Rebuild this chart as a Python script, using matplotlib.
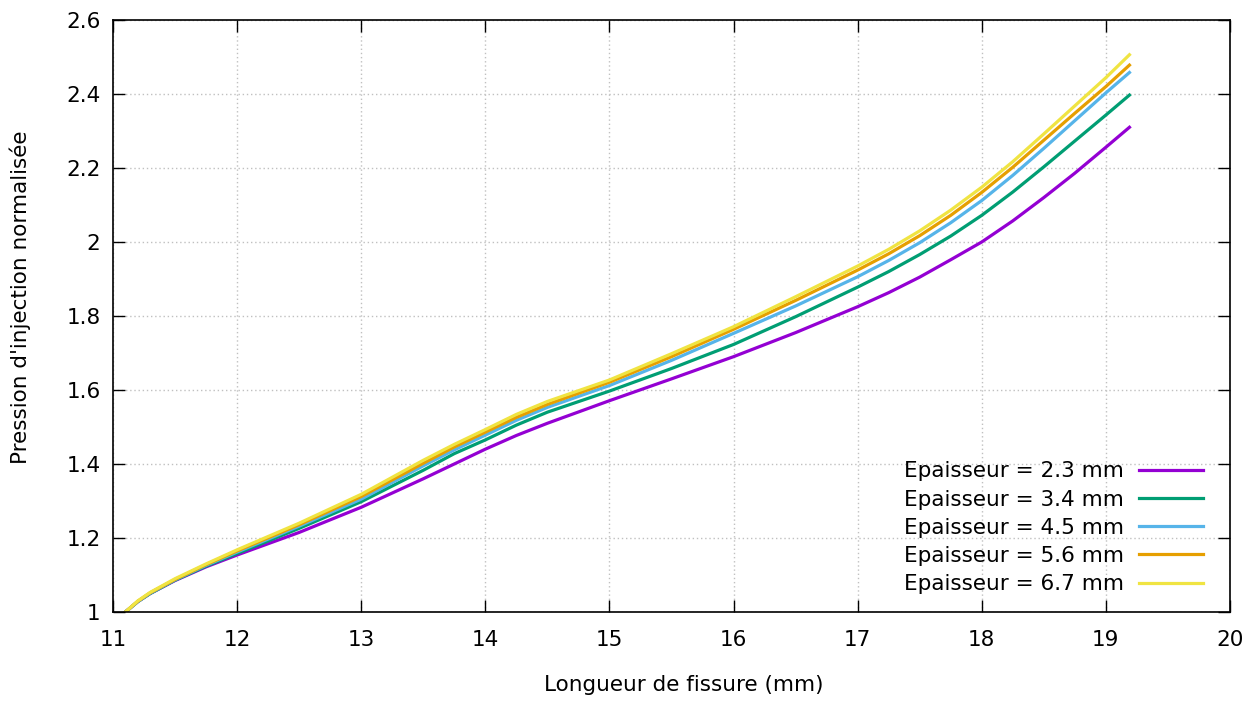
import matplotlib
matplotlib.use("Agg")
import matplotlib.pyplot as plt

# longueur de fissure (mm)
x = [11.1, 11.2, 11.3, 11.5, 11.75, 12.0, 12.5, 13.0, 13.5, 13.75, 14.0, 14.25, 14.5, 15.0,
     15.5, 16.0, 16.5, 17.0, 17.25, 17.5, 17.75, 18.0, 18.25, 18.5, 18.75, 19.0, 19.19]

# pression d'injection normalisee, une serie par epaisseur
p_23 = [1.0, 1.028, 1.05, 1.085, 1.122, 1.154, 1.215, 1.283, 1.36, 1.40, 1.44, 1.477, 1.51, 1.571,
        1.63, 1.69, 1.755, 1.825, 1.863, 1.905, 1.952, 2.0, 2.057, 2.12, 2.186, 2.256, 2.31]
p_34 = [1.0, 1.028, 1.05, 1.086, 1.124, 1.158, 1.226, 1.298, 1.383, 1.428, 1.465, 1.505, 1.54, 1.597,
        1.658, 1.723, 1.798, 1.878, 1.92, 1.966, 2.016, 2.072, 2.135, 2.203, 2.273, 2.343, 2.397]
p_45 = [1.0, 1.028, 1.051, 1.087, 1.126, 1.162, 1.232, 1.305, 1.395, 1.438, 1.478, 1.518, 1.553, 1.612,
        1.68, 1.753, 1.827, 1.906, 1.95, 1.998, 2.052, 2.112, 2.18, 2.253, 2.328, 2.403, 2.458]
p_56 = [1.0, 1.029, 1.052, 1.088, 1.128, 1.165, 1.236, 1.312, 1.402, 1.446, 1.486, 1.526, 1.561, 1.621,
        1.69, 1.764, 1.842, 1.924, 1.968, 2.017, 2.072, 2.134, 2.202, 2.275, 2.348, 2.42, 2.478]
p_67 = [1.0, 1.03, 1.053, 1.09, 1.13, 1.168, 1.24, 1.318, 1.41, 1.453, 1.493, 1.534, 1.569, 1.627,
        1.698, 1.771, 1.852, 1.935, 1.98, 2.03, 2.086, 2.148, 2.217, 2.292, 2.368, 2.444, 2.506]

labels = ["Epaisseur = 2.3 mm", "Epaisseur = 3.4 mm", "Epaisseur = 4.5 mm",
          "Epaisseur = 5.6 mm", "Epaisseur = 6.7 mm"]
colors = ["#9400d3", "#009e73", "#56b4e9", "#e69f00", "#f0e442"]
series = [p_23, p_34, p_45, p_56, p_67]

xticks = [11, 12, 13, 14, 15, 16, 17, 18, 19, 20]
yticks = [1, 1.2, 1.4, 1.6, 1.8, 2, 2.2, 2.4, 2.6]
ytick_labels = ["1", "1.2", "1.4", "1.6", "1.8", "2", "2.2", "2.4", "2.6"]

plt.rcParams['font.family'] = ['DejaVu Sans']
fig = plt.figure(figsize=(12.57, 7.01), dpi=100)
ax = fig.add_axes([0.0899, 0.127, 0.8886, 0.8445])

for ys, c, lab in zip(series, colors, labels):
    ax.plot(x, ys, color=c, linewidth=2.3, label=lab, solid_joinstyle='round')

ax.set_xlim(11, 20)
ax.set_ylim(1, 2.6)
ax.set_xticks(xticks)
ax.set_xticklabels([str(t) for t in xticks])
ax.set_yticks(yticks)
ax.set_yticklabels(ytick_labels)
ax.grid(True, color='#c0c0c0', linestyle=(0, (1, 2)), linewidth=1.0)
ax.tick_params(direction='in', length=8.5, width=1, top=True, right=True,
               labelsize=15.5, colors='black')
ax.tick_params(axis='x', pad=13)
ax.tick_params(axis='y', pad=9)
for s in ax.spines.values():
    s.set_linewidth(1.2)

ax.set_xlabel("Longueur de fissure (mm)", fontsize=15.5)
ax.set_ylabel("Pression d'injection normalisée", fontsize=15.5)
ax.xaxis.set_label_coords(0.511, -0.106)
ax.yaxis.set_label_coords(-0.073, 0.532)

leg = ax.legend(loc='lower right', bbox_to_anchor=(0.976, 0.03), frameon=False,
                markerfirst=False, fontsize=15.5, handlelength=3.0, handletextpad=0.7,
                labelspacing=0.38, borderpad=0, borderaxespad=0)

plt.savefig('out.png', dpi=100)
